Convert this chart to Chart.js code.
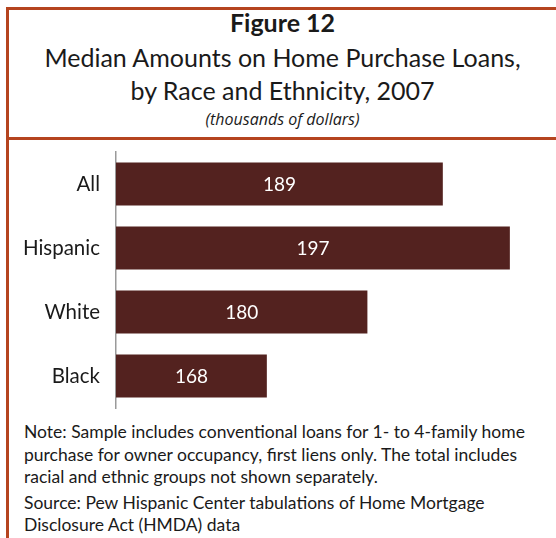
<!DOCTYPE html>
<html>
<head>
<meta charset="utf-8">
<script src="https://cdn.jsdelivr.net/npm/chart.js@4"></script>
<style>
  html, body { margin:0; padding:0; background:#fff; }
  #wrap { position:relative; width:556px; height:538px; overflow:hidden; font-family: Lato, "Open Sans", sans-serif; color:#1a1a1a; }
  .frameL { position:absolute; left:6px; top:7px; width:3px; height:540px; background:#b5441f; }
  .frameT { position:absolute; left:6px; top:7px; width:560px; height:3px; background:#b5441f; }
  .frameM { position:absolute; left:6px; top:137px; width:560px; height:3px; background:#b5441f; }
  .t { position:absolute; left:9px; width:547px; text-align:center; white-space:nowrap; line-height:30px; }
  #t1 { top:7px; font-size:25px; font-weight:bold; }
  #t2 { top:42px; font-size:25px; }
  #t3 { top:75px; font-size:25px; }
  #t4 { top:108px; font-size:16px; font-style:italic; font-family:"Open Sans", sans-serif; line-height:22px; }
  .note { position:absolute; left:24px; font-size:17.5px; line-height:21px; white-space:nowrap; }
  #c { position:absolute; left:0; top:0; }
</style>
</head>
<body>
<div id="wrap">
  <div class="frameL"></div>
  <div class="frameT"></div>
  <div class="frameM"></div>
  <div class="t" id="t1">Figure 12</div>
  <div class="t" id="t2">Median Amounts on Home Purchase Loans,</div>
  <div class="t" id="t3">by Race and Ethnicity, 2007</div>
  <div class="t" id="t4">(thousands of dollars)</div>
  <div class="note" style="top:421px">Note: Sample includes conventional loans for 1- to 4-family home</div>
  <div class="note" style="top:444px">purchase for owner occupancy, first liens only. The total includes</div>
  <div class="note" style="top:466px">racial and ethnic groups not shown separately.</div>
  <div class="note" style="top:492px">Source: Pew Hispanic Center tabulations of Home Mortgage</div>
  <div class="note" style="top:514px">Disclosure Act (HMDA) data</div>
  <canvas id="c" width="556" height="538"></canvas>
</div>
<script>
const categories = ["All", "Hispanic", "White", "Black"];
const values = [189, 197, 180, 168];
const axisMin = 150;
const axisMax = 200;

const barLabels = {
  id: 'barLabels',
  afterDraw(chart) {
    const ctx = chart.ctx;
    const xs = chart.scales.x;
    const ys = chart.scales.y;
    ctx.save();
    ctx.fillStyle = '#ffffff';
    ctx.font = '19px Lato, "Open Sans", sans-serif';
    ctx.textAlign = 'center';
    ctx.textBaseline = 'middle';
    values.forEach((v, i) => {
      const x0 = xs.getPixelForValue(axisMin);
      const x1 = xs.getPixelForValue(v);
      const y = ys.getPixelForValue(i);
      ctx.fillText(String(v), (x0 + x1) / 2, y + 1);
    });
    ctx.restore();
  }
};

new Chart(document.getElementById('c'), {
  type: 'bar',
  data: {
    labels: categories,
    datasets: [{
      data: values,
      backgroundColor: '#53221f',
      borderWidth: 0,
      barPercentage: 0.67,
      categoryPercentage: 1.0
    }]
  },
  options: {
    indexAxis: 'y',
    responsive: false,
    animation: false,
    devicePixelRatio: 1,
    layout: { padding: { top: 152, bottom: 130, left: 0, right: 21 } },
    plugins: { legend: { display: false }, tooltip: { enabled: false } },
    scales: {
      x: { display: false, min: axisMin, max: axisMax },
      y: {
        afterFit(scale) { scale.width = 116; },
        grid: { display: false, drawTicks: false },
        border: { display: true, color: '#9a9a9a', width: 1.5 },
        ticks: { color: '#1a1a1a', font: { size: 20.5, family: 'Lato, "Open Sans", sans-serif' }, padding: 16 }
      }
    }
  },
  plugins: [barLabels]
});
</script>
</body>
</html>
